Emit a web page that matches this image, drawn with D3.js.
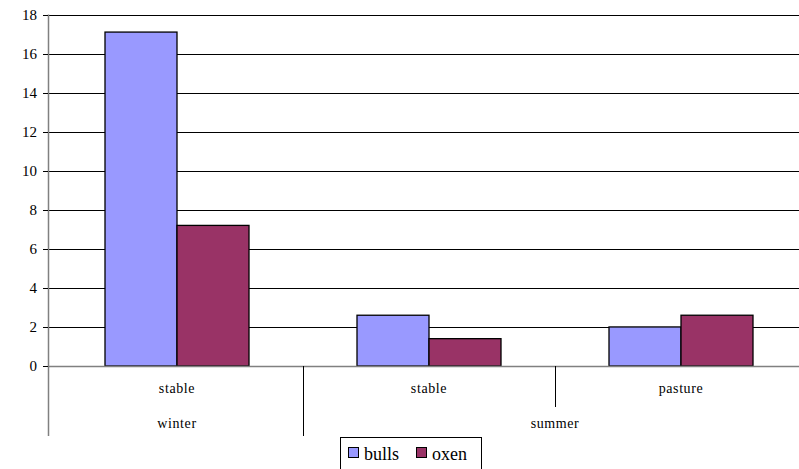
<!DOCTYPE html>
<html><head><meta charset="utf-8">
<script src="https://cdn.jsdelivr.net/npm/d3@7"></script>
<style>body{margin:0;background:#fff}svg{display:block}svg text{font-family:'Liberation Serif','Times New Roman',serif !important}</style>
</head><body><svg id="c" width="799" height="469"></svg>
<script>
const subCategories = ["stable","stable","pasture"];
const outerCategories = [{name:"winter", span:1},{name:"summer", span:2}];
const seriesNames = ["bulls","oxen"];
const bulls = [17.1, 2.6, 2.0];
const oxen = [7.2, 1.4, 2.6];
const yTicks = [0,2,4,6,8,10,12,14,16,18];
const colors = ["#9999FF","#993366"];
const FF = "'Liberation Serif', 'Times New Roman', serif";

const svg = d3.select("#c");
const L = 48, R = 808, T = 14.5, B = 366;
const y = d3.scaleLinear().domain([0,18]).range([B,T]);
const x = d3.scaleBand().domain(d3.range(subCategories.length)).range([51,807]);
const bw = x.bandwidth()/3.5;
const xs = d3.scaleBand().domain(seriesNames).range([0,2*bw]);

svg.append("g").selectAll("line").data(yTicks.filter(d=>d>0)).join("line")
  .attr("x1",L).attr("x2",R).attr("y1",d=>Math.round(y(d))+0.5).attr("y2",d=>Math.round(y(d))+0.5)
  .attr("stroke","#000").attr("stroke-width",1);

const data = [bulls, oxen];
seriesNames.forEach((s,si)=>{
  svg.append("g").selectAll("rect").data(data[si]).join("rect")
    .attr("x",(d,i)=>x(i)+x.bandwidth()/2-bw+xs(s))
    .attr("y",d=>y(d)).attr("width",bw).attr("height",d=>B-y(d))
    .attr("fill",colors[si]).attr("stroke","#000").attr("stroke-width",1.3);
});

svg.append("line").attr("x1",L+0.5).attr("x2",L+0.5).attr("y1",T).attr("y2",436).attr("stroke","#808080").attr("stroke-width",1.5);
svg.append("line").attr("x1",L).attr("x2",R).attr("y1",B+0.5).attr("y2",B+0.5).attr("stroke","#808080").attr("stroke-width",1.5);
svg.append("g").selectAll("line").data(yTicks).join("line")
  .attr("x1",L-5).attr("x2",L).attr("y1",d=>Math.round(y(d))+0.5).attr("y2",d=>Math.round(y(d))+0.5).attr("stroke","#000");
svg.append("g").selectAll("text").data(yTicks).join("text")
  .style("font-family",FF,"important")
  .attr("x",37).attr("y",d=>y(d)+5).attr("text-anchor","end").style("font-size","15px").text(d=>d);

svg.append("g").selectAll("text").data(subCategories).join("text")
  .style("font-family",FF,"important")
  .attr("x",(d,i)=>x(i)+x.bandwidth()/2).attr("y",393).attr("text-anchor","middle").style("font-size","14px").attr("letter-spacing",0.6).text(d=>d);
let idx = 0;
outerCategories.forEach(o=>{
  for(let k=1;k<o.span;k++){
    const xx = Math.round(x(idx+k))+0.5;
    svg.append("line").attr("x1",xx).attr("x2",xx).attr("y1",B).attr("y2",407).attr("stroke","#000");
  }
  const x0 = x(idx), x1 = x(idx+o.span-1)+x.bandwidth();
  svg.append("text").style("font-family",FF,"important").attr("x",(x0+x1)/2).attr("y",428).attr("text-anchor","middle").style("font-size","14px").attr("letter-spacing",0.6).text(o.name);
  if(idx+o.span < subCategories.length){
    const xx = Math.round(x(idx+o.span))+0.5;
    svg.append("line").attr("x1",xx).attr("x2",xx).attr("y1",B).attr("y2",436).attr("stroke","#000");
  }
  idx += o.span;
});

const lg = svg.append("g");
lg.append("rect").attr("x",340.5).attr("y",437.5).attr("width",141).attr("height",40).attr("fill","#fff").attr("stroke","#000");
const items = [{n:seriesNames[0],x:348,tx:364},{n:seriesNames[1],x:416,tx:432}];
items.forEach((it,i)=>{
  lg.append("rect").attr("x",it.x+0.5).attr("y",447.5).attr("width",10).attr("height",10).attr("fill",colors[i]).attr("stroke","#000");
  lg.append("text").style("font-family",FF,"important").attr("x",it.tx).attr("y",460).style("font-size","18px").text(it.n);
});
</script></body></html>
